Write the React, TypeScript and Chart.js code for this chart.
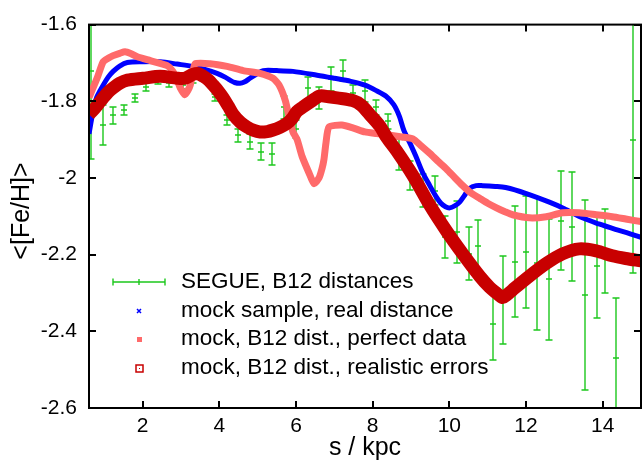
import React, { useEffect, useRef } from "react";
import { Chart, registerables } from "chart.js";
Chart.register(...registerables);

// ---- data ----
const xTicks = [2, 4, 6, 8, 10, 12, 14];
const yTicks = [-2.6, -2.4, -2.2, -2.0, -1.8, -1.6];

const segueX = [0.66, 0.97, 1.23, 1.52, 1.8, 2.09, 2.4, 2.69, 3.05, 3.31, 3.6, 3.89, 4.2, 4.49, 4.8, 5.09, 5.37, 5.68, 6.0, 6.31, 6.6, 6.91, 7.22, 7.48, 7.8, 8.08, 8.39, 8.68, 8.97, 9.31, 9.62, 9.88, 10.19, 10.5, 10.76, 11.13, 11.39, 11.7, 11.99, 12.28, 12.59, 12.9, 13.19, 13.55, 13.84, 14.07, 14.36, 14.8];
const segueY = [-1.722, -1.862, -1.837, -1.824, -1.791, -1.763, -1.748, -1.753, -1.758, -1.74, -1.725, -1.79, -1.849, -1.888, -1.905, -1.931, -1.938, -1.816, -1.872, -1.765, -1.791, -1.742, -1.72, -1.778, -1.773, -1.816, -1.852, -1.938, -1.994, -2.033, -2.033, -2.155, -2.142, -2.198, -2.178, -2.381, -2.318, -2.218, -2.193, -2.223, -2.264, -2.111, -2.127, -2.305, -2.229, -2.19, -2.47, -1.9];
const segueErr = [0.229, 0.053, 0.022, 0.013, 0.01, 0.01, 0.008, 0.009, 0.011, 0.013, 0.008, 0.008, 0.014, 0.017, 0.019, 0.023, 0.029, 0.031, 0.024, 0.028, 0.028, 0.031, 0.027, 0.02, 0.029, 0.019, 0.019, 0.04, 0.038, 0.044, 0.038, 0.055, 0.081, 0.069, 0.069, 0.095, 0.115, 0.145, 0.145, 0.173, 0.158, 0.13, 0.142, 0.247, 0.137, 0.11, 0.158, 0.349];

const blueX = [0.6, 0.7, 0.8, 0.97, 1.1, 1.23, 1.4, 1.6, 2.0, 2.46, 2.9, 3.31, 3.6, 3.94, 4.15, 4.28, 4.4, 4.54, 4.65, 4.8, 5.0, 5.14, 5.5, 5.92, 6.55, 7.0, 7.43, 7.8, 8.11, 8.35, 8.55, 8.7, 8.81, 9.0, 9.13, 9.3, 9.49, 9.65, 9.78, 9.9, 10.01, 10.15, 10.27, 10.4, 10.53, 10.7, 10.87, 11.2, 11.47, 11.99, 12.61, 13.0, 13.47, 13.9, 14.33, 14.7, 15.0];
const blueY = [-1.885, -1.83, -1.79, -1.758, -1.737, -1.722, -1.708, -1.699, -1.697, -1.697, -1.703, -1.709, -1.716, -1.727, -1.737, -1.745, -1.751, -1.753, -1.75, -1.74, -1.727, -1.72, -1.72, -1.722, -1.732, -1.74, -1.748, -1.758, -1.773, -1.787, -1.809, -1.84, -1.875, -1.915, -1.944, -1.985, -2.02, -2.048, -2.066, -2.075, -2.078, -2.072, -2.063, -2.045, -2.027, -2.02, -2.02, -2.022, -2.025, -2.04, -2.063, -2.08, -2.104, -2.12, -2.134, -2.145, -2.155];

const perfX = [0.6, 0.63, 0.81, 0.97, 1.1, 1.23, 1.4, 1.54, 1.7, 1.86, 2.2, 2.64, 2.79, 2.9, 2.98, 3.1, 3.18, 3.24, 3.3, 3.37, 3.76, 4.2, 4.62, 5.06, 5.4, 5.56, 5.72, 5.84, 5.92, 6.03, 6.16, 6.34, 6.47, 6.6, 6.68, 6.73, 6.78, 6.86, 7.2, 7.5, 7.8, 8.1, 8.42, 8.76, 9.05, 9.25, 9.49, 9.7, 9.93, 10.15, 10.35, 10.55, 10.79, 11.0, 11.23, 11.45, 11.65, 12.09, 12.53, 12.95, 13.39, 13.83, 14.25, 14.6, 15.0];
const perfY = [-1.79, -1.783, -1.74, -1.697, -1.688, -1.681, -1.675, -1.671, -1.676, -1.684, -1.694, -1.707, -1.722, -1.745, -1.765, -1.783, -1.772, -1.758, -1.73, -1.702, -1.702, -1.709, -1.72, -1.727, -1.74, -1.758, -1.798, -1.849, -1.88, -1.9, -1.944, -1.987, -2.015, -2.0, -1.975, -1.951, -1.91, -1.867, -1.862, -1.87, -1.88, -1.884, -1.888, -1.893, -1.898, -1.915, -1.936, -1.956, -1.977, -2.0, -2.02, -2.038, -2.053, -2.066, -2.078, -2.088, -2.096, -2.104, -2.101, -2.091, -2.091, -2.096, -2.101, -2.107, -2.114];

const realX = [0.6, 0.7, 0.85, 0.97, 1.1, 1.23, 1.4, 1.6, 2.01, 2.46, 2.9, 3.1, 3.31, 3.45, 3.58, 3.72, 3.84, 3.97, 4.1, 4.23, 4.36, 4.55, 4.72, 4.9, 5.06, 5.25, 5.4, 5.58, 5.76, 5.9, 6.02, 6.18, 6.4, 6.62, 6.85, 7.07, 7.48, 7.7, 7.92, 8.19, 8.37, 8.63, 9.05, 9.49, 9.93, 10.35, 10.79, 11.05, 11.23, 11.39, 11.5, 11.65, 12.09, 12.53, 12.95, 13.39, 13.83, 14.25, 14.6, 15.0];
const realY = [-1.834, -1.824, -1.806, -1.791, -1.776, -1.765, -1.753, -1.745, -1.74, -1.735, -1.74, -1.74, -1.73, -1.728, -1.735, -1.745, -1.758, -1.773, -1.791, -1.812, -1.834, -1.855, -1.867, -1.876, -1.88, -1.879, -1.875, -1.868, -1.858, -1.845, -1.827, -1.815, -1.8, -1.786, -1.788, -1.791, -1.798, -1.81, -1.834, -1.865, -1.895, -1.93, -1.994, -2.071, -2.139, -2.198, -2.256, -2.285, -2.3, -2.312, -2.305, -2.292, -2.256, -2.223, -2.198, -2.185, -2.19, -2.203, -2.21, -2.216];

const legendLabels = [
  "SEGUE, B12 distances",
  "mock sample, real distance",
  "mock, B12 dist., perfect data",
  "mock, B12 dist., realistic errors",
];

const GREEN = "#1cc81c";
const BLUE = "#0000ff";
const SALMON = "#ff6a6a";
const DARKRED = "#c80000";
const FONT = '"Liberation Sans", Arial, Helvetica, sans-serif';
const FS = 21;
const FS_LEGEND = 22.5;
const FS_TITLE = 25;

export default function App() {
  const ref = useRef<HTMLCanvasElement>(null);
  useEffect(() => {
    const canvas = ref.current!;
    const pts = (xs: number[], ys: number[]) => xs.map((x, i) => ({ x, y: ys[i] }));

    const custom = {
      id: "gnuplotStyle",
      beforeDatasetsDraw(chart: any) {
        const { ctx, chartArea: a, scales } = chart;
        const xs = scales.x, ys = scales.y;
        ctx.save();
        ctx.beginPath();
        ctx.rect(a.left, a.top, a.right - a.left, a.bottom - a.top);
        ctx.clip();
        ctx.strokeStyle = GREEN;
        ctx.lineWidth = 1.4;
        for (let i = 0; i < segueX.length; i++) {
          const px = Math.round(xs.getPixelForValue(segueX[i]));
          const pc = Math.round(ys.getPixelForValue(segueY[i]));
          const pt = Math.round(ys.getPixelForValue(segueY[i] + segueErr[i]));
          const pb = Math.round(ys.getPixelForValue(segueY[i] - segueErr[i]));
          ctx.beginPath();
          ctx.moveTo(px, pt);
          ctx.lineTo(px, pb);
          ctx.moveTo(px - 3.5, pt);
          ctx.lineTo(px + 3.5, pt);
          ctx.moveTo(px - 3.5, pb);
          ctx.lineTo(px + 3.5, pb);
          ctx.moveTo(px - 3, pc);
          ctx.lineTo(px + 3, pc);
          ctx.stroke();
        }
        ctx.restore();
      },
      afterDraw(chart: any) {
        const { ctx, chartArea: a, scales } = chart;
        const xs = scales.x, ys = scales.y;
        ctx.save();
        // frame
        ctx.strokeStyle = "#000";
        ctx.lineWidth = 2;
        ctx.strokeRect(a.left, a.top, a.right - a.left, a.bottom - a.top);
        // inward ticks
        const tl = 7;
        ctx.beginPath();
        for (const v of xTicks) {
          const px = Math.round(xs.getPixelForValue(v));
          ctx.moveTo(px, a.bottom);
          ctx.lineTo(px, a.bottom - tl);
          ctx.moveTo(px, a.top);
          ctx.lineTo(px, a.top + tl);
        }
        for (const v of yTicks) {
          const py = Math.round(ys.getPixelForValue(v));
          ctx.moveTo(a.left, py);
          ctx.lineTo(a.left + tl, py);
          ctx.moveTo(a.right, py);
          ctx.lineTo(a.right - tl, py);
        }
        ctx.stroke();
        // axis titles
        ctx.fillStyle = "#000";
        ctx.font = `${FS_TITLE}px ${FONT}`;
        ctx.textAlign = "center";
        ctx.textBaseline = "middle";
        ctx.fillText("s / kpc", (a.left + a.right) / 2, 448);
        ctx.save();
        ctx.translate(22, 211);
        ctx.rotate(-Math.PI / 2);
        ctx.fillText("<[Fe/H]>", 0, 0);
        ctx.restore();
        // legend
        const rowY = [282, 311, 339, 368];
        const mx = 139;
        ctx.font = `${FS_LEGEND}px ${FONT}`;
        ctx.textAlign = "left";
        ctx.textBaseline = "middle";
        for (let i = 0; i < legendLabels.length; i++) {
          ctx.fillStyle = "#000";
          ctx.fillText(legendLabels[i], 181, rowY[i]);
        }
        // green sample
        let y = rowY[0];
        ctx.strokeStyle = GREEN;
        ctx.lineWidth = 1.4;
        ctx.beginPath();
        ctx.moveTo(113, y); ctx.lineTo(165, y);
        ctx.moveTo(113, y - 3.5); ctx.lineTo(113, y + 3.5);
        ctx.moveTo(165, y - 3.5); ctx.lineTo(165, y + 3.5);
        ctx.moveTo(139, y - 3); ctx.lineTo(139, y + 3);
        ctx.stroke();
        // blue x
        y = rowY[1];
        ctx.strokeStyle = BLUE;
        ctx.lineWidth = 1.5;
        ctx.beginPath();
        ctx.moveTo(mx - 2, y - 2); ctx.lineTo(mx + 2, y + 2);
        ctx.moveTo(mx - 2, y + 2); ctx.lineTo(mx + 2, y - 2);
        ctx.stroke();
        // salmon square
        y = rowY[2];
        ctx.fillStyle = SALMON;
        ctx.fillRect(mx - 2, y - 2, 5, 5);
        // dark red open square
        y = rowY[3];
        ctx.strokeStyle = DARKRED;
        ctx.lineWidth = 1.5;
        ctx.strokeRect(mx - 3, y - 3, 7, 7);
        ctx.fillStyle = DARKRED;
        ctx.fillRect(mx, y, 1, 1);
        ctx.restore();
      },
    };

    const chart = new Chart(canvas, {
      type: "line",
      data: {
        datasets: [
          {
            label: legendLabels[3],
            data: pts(realX, realY),
            borderColor: DARKRED,
            borderWidth: 13,
            pointRadius: 0,
            tension: 0.3,
            fill: false,
            borderCapStyle: "butt",
          },
          {
            label: legendLabels[2],
            data: pts(perfX, perfY),
            borderColor: SALMON,
            borderWidth: 7,
            pointRadius: 0,
            tension: 0.2,
            fill: false,
          },
          {
            label: legendLabels[1],
            data: pts(blueX, blueY),
            borderColor: BLUE,
            borderWidth: 5,
            pointRadius: 0,
            tension: 0.3,
            fill: false,
          },
        ],
      },
      options: {
        animation: false,
        responsive: false,
        devicePixelRatio: 1,
        layout: { padding: { top: 15, right: 2, left: 0, bottom: 0 } },
        plugins: { legend: { display: false }, tooltip: { enabled: false } },
        scales: {
          x: {
            type: "linear",
            min: 0.6,
            max: 15,
            grid: { display: false, drawTicks: false },
            border: { display: false },
            afterBuildTicks: (s: any) => {
              s.ticks = xTicks.map((v) => ({ value: v }));
            },
            afterFit: (s: any) => {
              s.height = 54;
            },
            ticks: {
              color: "#000",
              font: { family: FONT, size: FS },
              padding: 6,
              maxRotation: 0,
              autoSkip: false,
              callback: (v: any) => String(v),
            },
          },
          y: {
            type: "linear",
            min: -2.6,
            max: -1.6,
            grid: { display: false, drawTicks: false },
            border: { display: false },
            afterBuildTicks: (s: any) => {
              s.ticks = yTicks.map((v) => ({ value: v }));
            },
            afterFit: (s: any) => {
              s.width = 89;
            },
            ticks: {
              color: "#000",
              font: { family: FONT, size: FS },
              padding: 12,
              autoSkip: false,
              callback: (v: any) => String(Number(Number(v).toFixed(1))),
            },
          },
        },
      },
      plugins: [custom],
    });
    return () => chart.destroy();
  }, []);
  return (
    <div style={{ position: "absolute", left: 0, top: 0, width: 643, height: 462, background: "#fff" }}>
      <canvas ref={ref} width={643} height={462} style={{ display: "block", width: 643, height: 462 }} />
    </div>
  );
}
